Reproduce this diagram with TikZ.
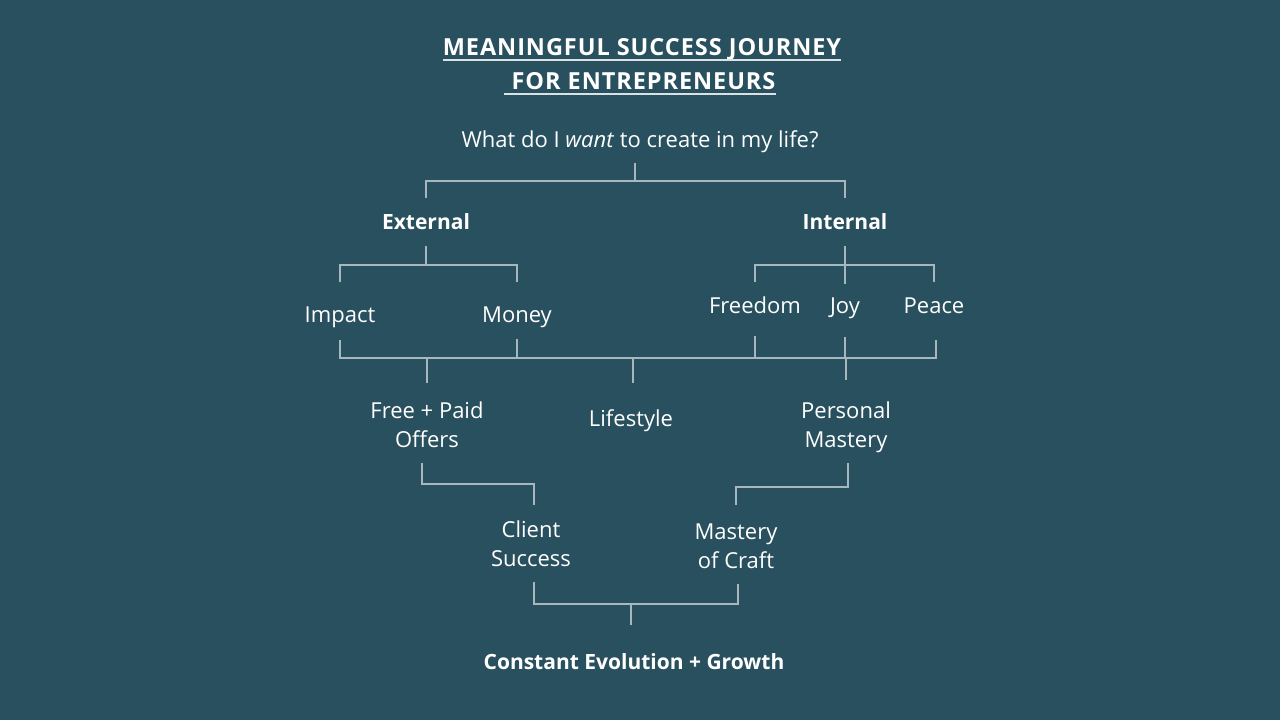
\documentclass[tikz,border=0pt]{standalone}
\usepackage{fontspec}
\setmainfont{Open Sans}
\usetikzlibrary{calc}
\definecolor{bgteal}{HTML}{29505E}
\definecolor{linegray}{HTML}{A8B6BD}

\begin{document}
\begin{tikzpicture}[x=1pt,y=-1pt,
    txt/.style={text=white,font=\fontsize{22}{29}\selectfont,align=center,inner sep=0pt,anchor=base},
    bold/.style={txt,font=\fontsize{21}{29}\selectfont\bfseries},
    heading/.style={txt,font=\fontsize{23.5}{30}\selectfont\bfseries\addfontfeatures{LetterSpace=4}},
    link/.style={linegray,line width=2.6pt}]
    \fill[bgteal] (0,0) rectangle (1280,720);
    \useasboundingbox (0,0) rectangle (1280,720);

    % title
    \node[heading] (title1) at (642,55) {MEANINGFUL SUCCESS JOURNEY};
    \node[heading] (title2) at (640,89) {\ FOR ENTREPRENEURS};
    \draw[linegray!40!white,line width=1.8pt] ($(title1.base west)+(0,5)$) -- ($(title1.base east)+(0,5)$);
    \draw[linegray!40!white,line width=1.8pt] ($(title2.base west)+(0,5)$) -- ($(title2.base east)+(0,5)$);

    \node[txt] (want) at (640,147) {What do I \textit{want} to create in my life?};

    % first split
    \node[bold] (ext) at (426,229) {External};
    \node[bold] (int) at (845,229) {Internal};
    \draw[link] (635,163) -- (635,181);
    \draw[link] (ext |- 0,198) -- (ext |- 0,181) -- (int |- 0,181) -- (int |- 0,198);

    % second level
    \node[txt] (impact) at (340,322) {Impact};
    \node[txt] (money) at (517,322) {Money};
    \node[txt] (freedom) at (755,313) {Freedom};
    \node[txt] (joy) at (845,313) {Joy};
    \node[txt] (peace) at (934,313) {Peace};
    \draw[link] (ext |- 0,246) -- (ext |- 0,265);
    \draw[link] (impact |- 0,282) -- (impact |- 0,265) -- (money |- 0,265) -- (money |- 0,282);
    \draw[link] (int |- 0,246) -- (int |- 0,284);
    \draw[link] (freedom |- 0,282) -- (freedom |- 0,265) -- (peace |- 0,265) -- (peace |- 0,282);

    % collecting bar
    \node[txt] (offers) at (427,447) {Free + Paid\\Offers};
    \node[txt] (life) at (631,426) {Lifestyle};
    \node[txt] (pers) at (846,447) {Personal\\Mastery};
    \draw[link] (impact |- 0,340) -- (impact |- 0,358) -- (936,358) -- (936,340);
    \draw[link] (money |- 0,339) -- (money |- 0,358);
    \draw[link] (freedom |- 0,336) -- (freedom |- 0,358);
    \draw[link] (joy |- 0,337) -- (joy |- 0,358);
    \draw[link] (offers |- 0,358) -- (offers |- 0,383);
    \draw[link] (633,358) -- (633,383);
    \draw[link] (pers |- 0,358) -- (pers |- 0,380);

    % next step
    \node[txt] (client) at (531,566) {Client\\Success};
    \node[txt] (craft) at (736,568) {Mastery\\of Craft};
    \draw[link] (422,463) -- (422,484) -- (534,484) -- (534,505);
    \draw[link] (848,463) -- (848,487) -- (craft |- 0,487) -- (craft |- 0,505);

    % result
    \node[bold] (growth) at (634,669) {Constant Evolution + Growth};
    \draw[link] (534,582) -- (534,604) -- (738,604) -- (738,584);
    \draw[link] (631,604) -- (631,625);
\end{tikzpicture}
\end{document}
